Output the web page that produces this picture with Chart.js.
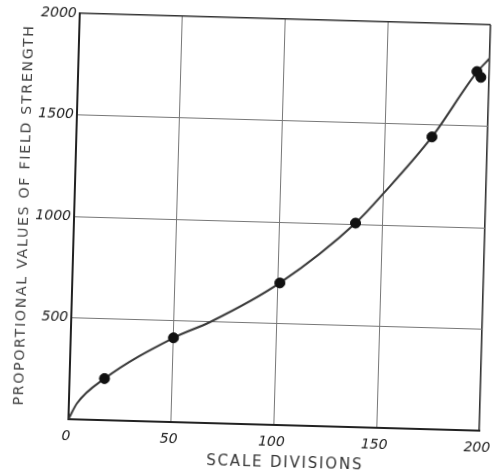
<!DOCTYPE html>
<html><head><meta charset="utf-8">
<script src="https://cdn.jsdelivr.net/npm/chart.js@4.4.0/dist/chart.umd.min.js"></script>
<style>
html,body{margin:0;padding:0;background:#fff;overflow:hidden;width:493px;height:475px;}
#wrap{position:absolute;left:0;top:0;width:520px;height:475px;transform-origin:279.5px 222.5px;transform:rotate(1.6deg);}
canvas{display:block}
</style></head><body>
<div id="wrap"><canvas id="c" width="520" height="475"></canvas></div>
<script>
// Tick labels
const xTicks = [0, 50, 100, 150, 200];
const yTicks = [500, 1000, 1500, 2000];
// Measured points
const scaleDivisions = [17, 50, 101, 137, 173, 194, 196];
const fieldStrength = [205, 415, 700, 1005, 1440, 1768, 1740];
// Smooth drawn curve
const curveDivisions = [0, 4, 17, 50, 68, 101, 137, 150, 173, 194, 200];
const curveStrength = [0, 80, 205, 415, 500, 700, 1005, 1153, 1440, 1765, 1835];

const xTitle = 'SCALE DIVISIONS';
const yTitle = 'PROPORTIONAL VALUES OF FIELD STRENGTH';

const spacingPlugin = {
  id: 'titleSpacing',
  beforeDraw(chart) {
    ['x', 'y'].forEach(id => {
      const s = chart.scales[id];
      if (!s || s._wrappedTitle) return;
      const orig = s.drawTitle;
      s.drawTitle = function () {
        const ctx = this.ctx;
        ctx.save();
        ctx.letterSpacing = '1.8px';
        if (id === 'x') ctx.translate(12, 0);
        orig.apply(this, arguments);
        ctx.restore();
      };
      s._wrappedTitle = true;
    });
  }
};

const tickFont = { family: 'DejaVu Sans', style: 'italic', size: 14 };

new Chart(document.getElementById('c'), {
  type: 'scatter',
  data: {
    datasets: [
      {
        label: 'curve',
        data: curveDivisions.map((x, i) => ({ x: x, y: curveStrength[i] })),
        showLine: true,
        borderColor: '#3a3a3a',
        borderWidth: 2,
        pointRadius: 0,
        cubicInterpolationMode: 'monotone',
        fill: false,
        order: 2
      },
      {
        label: 'points',
        data: scaleDivisions.map((x, i) => ({ x: x, y: fieldStrength[i] })),
        showLine: false,
        pointRadius: 5,
        pointBackgroundColor: '#111',
        pointBorderColor: '#111',
        order: 1
      }
    ]
  },
  options: {
    responsive: false,
    animation: false,
    layout: { padding: { left: 0, top: 19, right: 35, bottom: 0 } },
    plugins: { legend: { display: false }, tooltip: { enabled: false } },
    scales: {
      x: {
        type: 'linear',
        min: 0, max: 200,
        afterBuildTicks: s => { s.ticks = xTicks.map(v => ({ value: v })); },
        afterFit: s => { s.height = 50; s.paddingLeft = 0; s.paddingRight = 0; },
        ticks: { font: tickFont, color: '#222', padding: 9, maxRotation: 0, labelOffset: -2 },
        grid: {
          drawTicks: false,
          color: ctx => (ctx.tick && ctx.tick.value === 200) ? '#333' : '#777',
          lineWidth: ctx => (ctx.tick && ctx.tick.value === 200) ? 1.6 : 1
        },
        border: { color: '#222', width: 2 },
        title: {
          display: true, text: xTitle, color: '#333',
          font: { family: 'DejaVu Sans', size: 15 },
          padding: { top: 0, bottom: 2.5 }
        }
      },
      y: {
        type: 'linear',
        min: 0, max: 2000,
        afterBuildTicks: s => { s.ticks = [0].concat(yTicks).map(v => ({ value: v })); },
        afterFit: s => { s.width = 74; s.paddingTop = 0; s.paddingBottom = 0; },
        ticks: {
          font: tickFont, color: '#222', padding: 3,
          callback: v => (yTicks.indexOf(v) >= 0 ? String(v) : '')
        },
        grid: {
          drawTicks: false,
          color: ctx => (ctx.tick && ctx.tick.value === 2000) ? '#333' : '#777',
          lineWidth: ctx => (ctx.tick && ctx.tick.value === 2000) ? 1.6 : 1
        },
        border: { color: '#222', width: 2 },
        title: {
          display: true, text: yTitle, color: '#444',
          font: { family: 'DejaVu Sans', size: 14 },
          padding: { top: 15.5, bottom: 0 }
        }
      }
    }
  },
  plugins: [spacingPlugin]
});
</script>
</body></html>
